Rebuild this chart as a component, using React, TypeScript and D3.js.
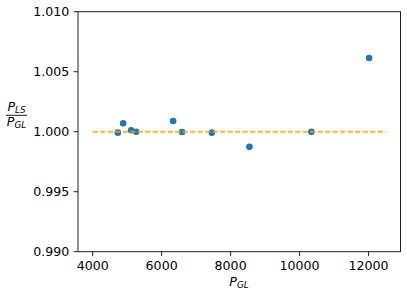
import React from "react";
import * as d3 from "d3";

const pGL = [4730, 4884, 5116, 5261, 6333, 6594, 7455, 8545, 10342, 12014];
const ratio = [0.99992, 1.0007, 1.00012, 1.0, 1.00089, 0.99998, 0.99992, 0.99875, 1.0, 1.00614];
const refLineX = [4000, 12500];
const refLineY = [1.0, 1.0];
const xTicks = [4000, 6000, 8000, 10000, 12000];
const yTicks = [0.99, 0.995, 1.0, 1.005, 1.01];

const W = 407, H = 295;
const left = 78, right = 400.5, top = 11.7, bottom = 251.7;
const font = "DejaVu Sans, sans-serif";
const fs = 12.6;

export default function App() {
  const x = d3.scaleLinear().domain([3575, 12925]).range([left, right]);
  const y = d3.scaleLinear().domain([0.99, 1.01]).range([bottom, top]);
  const line = d3.line<number>().x((d, i) => x(refLineX[i])).y((d) => y(d));
  return (
    <svg width={W} height={H} style={{ position: "absolute", left: 0, top: 0 }}>
      <rect width={W} height={H} fill="white" />
      {pGL.map((p, i) => (
        <circle key={i} cx={x(p)} cy={y(ratio[i])} r={3.3} fill="#1f77b4" />
      ))}
      <path d={line(refLineY) || ""} stroke="orange" strokeOpacity={0.8} strokeWidth={1.9} strokeDasharray="5.2,2.3" fill="none" />
      <rect x={left} y={top} width={right - left} height={bottom - top} fill="none" stroke="#222" strokeWidth={1} />
      {xTicks.map((t) => (
        <g key={t}>
          <line x1={x(t)} x2={x(t)} y1={bottom} y2={bottom + 4.4} stroke="#222" strokeWidth={1} />
          <text x={x(t)} y={269.5} textAnchor="middle" fontFamily={font} fontSize={fs}>{t}</text>
        </g>
      ))}
      {yTicks.map((t) => (
        <g key={t}>
          <line x1={left} x2={left - 4.4} y1={y(t)} y2={y(t)} stroke="#222" strokeWidth={1} />
          <text x={69.3} y={y(t) + 4.6} textAnchor="end" fontFamily={font} fontSize={fs}>{t.toFixed(3)}</text>
        </g>
      ))}
      <text x={239} y={285.5} textAnchor="middle" fontFamily={font} fontSize={fs}>
        <tspan fontStyle="italic">P</tspan>
        <tspan fontStyle="italic" fontSize={8.8} dy={2.5}>GL</tspan>
      </text>
      <text x={16.5} y={110.5} textAnchor="middle" fontFamily={font} fontSize={fs}>
        <tspan fontStyle="italic">P</tspan>
        <tspan fontStyle="italic" fontSize={8.8} dy={2}>LS</tspan>
      </text>
      <line x1={6} x2={27} y1={115.3} y2={115.3} stroke="black" strokeWidth={0.9} />
      <text x={16.5} y={125.5} textAnchor="middle" fontFamily={font} fontSize={fs}>
        <tspan fontStyle="italic">P</tspan>
        <tspan fontStyle="italic" fontSize={8.8} dy={2}>GL</tspan>
      </text>
    </svg>
  );
}
